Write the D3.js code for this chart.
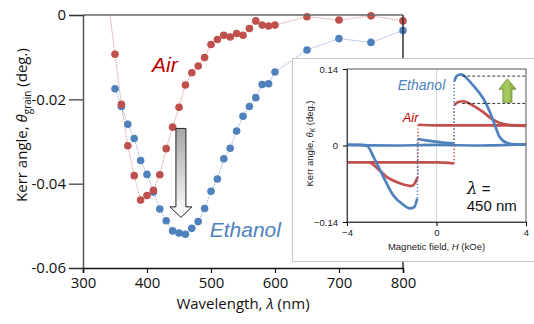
<!DOCTYPE html>
<html>
<head>
<meta charset="utf-8">
<script src="https://cdn.jsdelivr.net/npm/d3@7"></script>
<style>
  body { margin: 0; background: #fff; }
  svg { display: block; }
</style>
</head>
<body>
<div id="wrapper"></div>
<script>
// main chart: Kerr angle vs wavelength
const wavelength = [350, 360, 370, 380, 390, 400, 410, 420, 430, 440, 450, 460, 470, 480, 490,
    500, 510, 520, 530, 540, 550, 560, 570, 580, 590, 600, 650, 700, 750, 800];
const airKerr = [-0.0093, -0.0212, -0.0310, -0.0381, -0.0439, -0.0428, -0.0416, -0.0379, -0.0317, -0.0266,
    -0.0219, -0.0166, -0.0137, -0.0121, -0.0101, -0.0070, -0.0058, -0.0048, -0.0052, -0.0044,
    -0.0048, -0.0032, -0.0014, -0.0024, -0.0026, -0.0024, -0.0004, -0.0012, -0.0002, -0.0014];
const ethanolKerr = [-0.0175, -0.0217, -0.0259, -0.0293, -0.0345, -0.0378, -0.0420, -0.0460, -0.0488, -0.0512,
    -0.0517, -0.0520, -0.0506, -0.0490, -0.0459, -0.0418, -0.0389, -0.0341, -0.0316, -0.0275,
    -0.0240, -0.0217, -0.0196, -0.0165, -0.0163, -0.0135, -0.0083, -0.0056, -0.0065, -0.0037];
// the air curve comes in from above the plot at 340 nm
const airLead = {wavelength: 340, kerr: 0.0025};

const xTicks = [300, 400, 500, 600, 700, 800];
const yTicks = [0, -0.02, -0.04, -0.06];
const yTickLabels = ["0", "-0.02", "-0.04", "-0.06"];

// inset: hysteresis loops at 450 nm, [H (kOe), angle (deg.)]
const ethanolTrough = [[-4, 0.001], [-3.4, 0.001], [-3.1, -0.001], [-2.8, -0.022], [-2.4, -0.055],
    [-1.95, -0.090], [-1.5, -0.108], [-1.2, -0.115], [-1.0, -0.113], [-0.86, -0.097]];
const ethanolMiddle = [[-0.83, 0.012], [-0.4, 0.009], [0, 0.007], [0.4, 0.005], [0.78, 0.004]];
const ethanolPeak = [[0.8, 0.118], [0.9, 0.127], [1.1, 0.130], [1.4, 0.121], [1.64, 0.110],
    [2.09, 0.086], [2.39, 0.061], [2.61, 0.037], [2.83, 0.015], [3.13, 0.005], [3.5, 0.002], [4, 0.002]];
const ethanolFlat = [[-4, 0.001], [-2, 0.0], [0, 0.001], [2, 0.0], [4, 0.002]];
const ethanolJumps = [[-0.85, -0.097, 0.012], [0.79, 0.004, 0.118]];

const airTrough = [[-4, -0.031], [-3.0, -0.031], [-2.69, -0.040], [-2.24, -0.057], [-1.64, -0.069],
    [-1.12, -0.074], [-0.93, -0.066], [-0.85, -0.058]];
const airUpper = [[-0.82, 0.038], [0, 0.037], [1, 0.037], [2, 0.037], [3, 0.037], [4, 0.036]];
const airLower = [[-3.0, -0.031], [-2, -0.031], [-1, -0.031], [0, -0.031], [0.78, -0.033]];
const airPeak = [[0.8, 0.074], [0.95, 0.079], [1.19, 0.081], [1.64, 0.073], [2.09, 0.061],
    [2.46, 0.049], [2.83, 0.041], [3.2, 0.038], [4, 0.037]];
const airJumps = [[-0.83, -0.058, 0.038], [0.79, -0.033, 0.074]];

const peakLevels = [0.127, 0.077];
const insetXTicks = [-4, 0, 4];
const insetYTicks = [0.14, 0, -0.14];

const red = "#c0504d";
const blue = "#4f81bd";

function drawChart() {
    const width = 534;
    const height = 324;
    const margin = {top: 15, right: 131, bottom: 56, left: 83};
    const dimensions = new Dimensions(width, height, margin);

    const svg = d3.select("#wrapper")
        .append("svg")
        .attr("width", dimensions.width)
        .attr("height", dimensions.height);

    const defs = svg.append("defs");
    const grey = defs.append("linearGradient")
        .attr("id", "greyArrow")
        .attr("x1", 0).attr("y1", 0).attr("x2", 0).attr("y2", 1);
    grey.append("stop").attr("offset", "0%").attr("stop-color", "#a6a6a6");
    grey.append("stop").attr("offset", "100%").attr("stop-color", "#ffffff");
    const green = defs.append("linearGradient")
        .attr("id", "greenArrow")
        .attr("x1", 0).attr("y1", 0).attr("x2", 1).attr("y2", 0);
    green.append("stop").attr("offset", "0%").attr("stop-color", "#8fb548");
    green.append("stop").attr("offset", "50%").attr("stop-color", "#a9cc63");
    green.append("stop").attr("offset", "100%").attr("stop-color", "#7aa03a");
    defs.append("clipPath").attr("id", "plotClip")
        .append("rect")
        .attr("width", dimensions.boundedWidth)
        .attr("height", dimensions.boundedHeight);

    const bounds = svg.append("g")
        .attr("transform", translate(dimensions.margin.left, dimensions.margin.top));

    const xScale = d3.scaleLinear()
        .domain([300, 800])
        .range([0, dimensions.boundedWidth]);

    const yScale = d3.scaleLinear()
        .domain([-0.06, 0])
        .range([dimensions.boundedHeight, 0]);

    const air = wavelength.map((w, i) => ({wavelength: w, kerr: airKerr[i]}));
    const ethanol = wavelength.map((w, i) => ({wavelength: w, kerr: ethanolKerr[i]}));

    const lineGenerator = d3.line()
        .x(d => xScale(d.wavelength))
        .y(d => yScale(d.kerr));

    const plot = bounds.append("g").attr("clip-path", "url(#plotClip)");

    plot.append("path")
        .attr("d", lineGenerator([airLead, ...air]))
        .attr("fill", "none")
        .attr("stroke", "#d58f8d")
        .attr("stroke-width", 0.9)
        .attr("stroke-dasharray", "1.5,1");

    plot.append("path")
        .attr("d", lineGenerator(ethanol))
        .attr("fill", "none")
        .attr("stroke", "#8ea6cf")
        .attr("stroke-width", 0.9)
        .attr("stroke-dasharray", "1.5,1");

    bounds.append("g")
        .selectAll("circle")
        .data(ethanol)
        .join("circle")
        .attr("cx", d => xScale(d.wavelength))
        .attr("cy", d => yScale(d.kerr))
        .attr("r", 3.8)
        .attr("fill", blue);

    bounds.append("g")
        .selectAll("circle")
        .data(air)
        .join("circle")
        .attr("cx", d => xScale(d.wavelength))
        .attr("cy", d => yScale(d.kerr))
        .attr("r", 3.8)
        .attr("fill", red);

    // frame
    bounds.append("line")
        .attr("x1", 0).attr("x2", dimensions.boundedWidth)
        .attr("y1", 0).attr("y2", 0)
        .attr("stroke", "#666").attr("stroke-width", 1.5);
    bounds.append("line")
        .attr("x1", dimensions.boundedWidth).attr("x2", dimensions.boundedWidth)
        .attr("y1", 0).attr("y2", dimensions.boundedHeight)
        .attr("stroke", "#333").attr("stroke-width", 1.5);

    const yAxisGenerator = d3.axisLeft()
        .scale(yScale)
        .tickValues(yTicks)
        .tickFormat((d, i) => yTickLabels[i])
        .tickSize(14)
        .tickPadding(3);

    const yAxis = bounds.append("g")
        .call(yAxisGenerator);
    yAxis.select(".domain").attr("stroke", "#555").attr("stroke-width", 1.5);
    yAxis.selectAll(".tick line").attr("stroke", "#333").attr("stroke-width", 1.2);
    yAxis.selectAll("text")
        .attr("font-family", "Open Sans")
        .attr("font-size", 15)
        .attr("fill", "#111");

    const xAxisGenerator = d3.axisBottom()
        .scale(xScale)
        .tickValues(xTicks)
        .tickSize(5)
        .tickPadding(4);

    const xAxis = bounds.append("g")
        .call(xAxisGenerator)
        .attr("transform", translate(0, dimensions.boundedHeight));
    xAxis.select(".domain").attr("stroke", "#111").attr("stroke-width", 1.5);
    xAxis.selectAll(".tick line").attr("stroke", "#111").attr("stroke-width", 1.2);
    xAxis.selectAll("text")
        .attr("font-family", "Open Sans")
        .attr("font-size", 15)
        .attr("fill", "#111");

    const xLabel = bounds.append("text")
        .attr("x", dimensions.boundedWidth / 2)
        .attr("y", dimensions.boundedHeight + 41)
        .attr("text-anchor", "middle")
        .attr("font-family", "Open Sans")
        .attr("font-size", 15)
        .attr("fill", "#111");
    xLabel.append("tspan").text("Wavelength, ");
    xLabel.append("tspan").attr("font-style", "italic").text("λ");
    xLabel.append("tspan").text(" (nm)");

    const yLabel = svg.append("text")
        .attr("transform", "translate(27,125) rotate(-90)")
        .attr("text-anchor", "middle")
        .attr("font-family", "Open Sans")
        .attr("font-size", 15)
        .attr("fill", "#111");
    yLabel.append("tspan").text("Kerr angle, ");
    yLabel.append("tspan").attr("font-style", "italic").text("θ");
    yLabel.append("tspan").attr("font-size", 10).attr("dy", 4).text("grain");
    yLabel.append("tspan").attr("dy", -4).text(" (deg.)");

    bounds.append("text")
        .attr("x", xScale(408))
        .attr("y", yScale(-0.0136))
        .attr("font-family", "Liberation Sans")
        .attr("font-style", "italic")
        .attr("font-size", 21)
        .attr("fill", "#c00000")
        .text("Air");

    bounds.append("text")
        .attr("x", xScale(498))
        .attr("y", yScale(-0.0526))
        .attr("font-family", "Liberation Sans")
        .attr("font-style", "italic")
        .attr("font-size", 21)
        .attr("fill", blue)
        .text("Ethanol");

    // grey block arrow: from the air dip to the ethanol dip
    const ax = xScale(453);
    const aTop = yScale(-0.0269);
    const aNeck = yScale(-0.0455);
    const aTip = yScale(-0.0480);
    bounds.append("path")
        .attr("d", `M${ax - 5},${aTop} H${ax + 5} V${aNeck} H${ax + 11} L${ax},${aTip} L${ax - 11},${aNeck} H${ax - 5} Z`)
        .attr("fill", "url(#greyArrow)")
        .attr("stroke", "#222")
        .attr("stroke-width", 1);

    drawInset(svg, defs);
}

function drawInset(svg, defs) {
    svg.append("rect")
        .attr("x", 292.5).attr("y", 58.5)
        .attr("width", 250).attr("height", 203)
        .attr("fill", "#fff")
        .attr("stroke", "#c6c6c6")
        .attr("stroke-width", 1);

    const inset = new Dimensions(534, 324, {top: 69, right: 8, bottom: 102, left: 347});
    const g = svg.append("g")
        .attr("transform", translate(inset.margin.left, inset.margin.top));

    const hScale = d3.scaleLinear()
        .domain([-4, 4])
        .range([0, inset.boundedWidth]);
    const kScale = d3.scaleLinear()
        .domain([-0.14, 0.14])
        .range([inset.boundedHeight, 0]);

    g.append("line")
        .attr("x1", hScale(0)).attr("x2", hScale(0))
        .attr("y1", 0).attr("y2", inset.boundedHeight)
        .attr("stroke", "#d9d9d9");

    const curve = d3.line()
        .x(d => hScale(d[0]))
        .y(d => kScale(d[1]))
        .curve(d3.curveMonotoneX);

    const branches = [
        {data: airLower, color: red},
        {data: airTrough, color: red},
        {data: airUpper, color: red},
        {data: airPeak, color: red},
        {data: ethanolFlat, color: blue},
        {data: ethanolTrough, color: blue},
        {data: ethanolMiddle, color: blue},
        {data: ethanolPeak, color: blue},
    ];
    g.append("g")
        .selectAll("path")
        .data(branches)
        .join("path")
        .attr("d", d => curve(d.data))
        .attr("fill", "none")
        .attr("stroke", d => d.color)
        .attr("stroke-width", 2.7)
        .attr("stroke-linejoin", "round");

    const jumps = [
        ...airJumps.map(j => ({jump: j, color: red})),
        ...ethanolJumps.map(j => ({jump: j, color: blue})),
    ];
    g.append("g")
        .selectAll("line")
        .data(jumps)
        .join("line")
        .attr("x1", d => hScale(d.jump[0]))
        .attr("x2", d => hScale(d.jump[0]))
        .attr("y1", d => kScale(d.jump[1]))
        .attr("y2", d => kScale(d.jump[2]))
        .attr("stroke", d => d.color)
        .attr("stroke-width", 1.6)
        .attr("stroke-dasharray", "1.2,2.2");

    g.append("g")
        .selectAll("line")
        .data(peakLevels)
        .join("line")
        .attr("x1", hScale(1.15))
        .attr("x2", hScale(4))
        .attr("y1", d => kScale(d))
        .attr("y2", d => kScale(d))
        .attr("stroke", "#222")
        .attr("stroke-width", 0.9)
        .attr("stroke-dasharray", "3,2");

    // green up arrow between the two peak levels
    const gx = hScale(3.17);
    const gTop = kScale(0.122);
    const gNeck = kScale(0.103);
    const gBottom = kScale(0.079);
    g.append("path")
        .attr("d", `M${gx - 4.5},${gBottom} V${gNeck} H${gx - 8.5} L${gx},${gTop} L${gx + 8.5},${gNeck} H${gx + 4.5} V${gBottom} Z`)
        .attr("fill", "url(#greenArrow)")
        .attr("stroke", "#6b8e2f")
        .attr("stroke-width", 0.8);

    // frame
    g.append("rect")
        .attr("width", inset.boundedWidth)
        .attr("height", inset.boundedHeight)
        .attr("fill", "none")
        .attr("stroke", "#555")
        .attr("stroke-width", 1);

    const yAxis = g.append("g")
        .call(d3.axisLeft(kScale)
            .tickValues(insetYTicks)
            .tickFormat(d => d === 0 ? "0" : d3.format(".2f")(d))
            .tickSize(4)
            .tickPadding(5));
    yAxis.select(".domain").attr("stroke", "#444");
    yAxis.selectAll("text")
        .attr("font-family", "Liberation Sans")
        .attr("font-size", 9.5)
        .attr("fill", "#222");

    const xAxis = g.append("g")
        .attr("transform", translate(0, inset.boundedHeight))
        .call(d3.axisBottom(hScale)
            .tickValues(insetXTicks)
            .tickSize(4)
            .tickPadding(3));
    xAxis.select(".domain").attr("stroke", "#444");
    xAxis.selectAll("text")
        .attr("font-family", "Liberation Sans")
        .attr("font-size", 9.5)
        .attr("fill", "#222");

    const xLabel = g.append("text")
        .attr("x", inset.boundedWidth / 2)
        .attr("y", inset.boundedHeight + 28)
        .attr("text-anchor", "middle")
        .attr("font-family", "Liberation Sans")
        .attr("font-size", 9.5)
        .attr("fill", "#222");
    xLabel.append("tspan").text("Magnetic field, ");
    xLabel.append("tspan").attr("font-style", "italic").text("H");
    xLabel.append("tspan").text(" (kOe)");

    const yLabel = g.append("text")
        .attr("transform", `translate(-34,${inset.boundedHeight / 2 - 2}) rotate(-90)`)
        .attr("text-anchor", "middle")
        .attr("font-family", "Liberation Sans")
        .attr("font-size", 9.5)
        .attr("fill", "#222");
    yLabel.append("tspan").text("Kerr angle, ");
    yLabel.append("tspan").attr("font-style", "italic").text("θ");
    yLabel.append("tspan").attr("font-size", 6.5).attr("dy", 2).attr("font-style", "italic").text("K");
    yLabel.append("tspan").attr("dy", -2).text(" (deg.)");

    g.append("text")
        .attr("x", hScale(-1.73))
        .attr("y", kScale(0.101))
        .attr("font-family", "Liberation Sans")
        .attr("font-style", "italic")
        .attr("font-size", 14)
        .attr("fill", blue)
        .text("Ethanol");

    g.append("text")
        .attr("x", hScale(-1.51))
        .attr("y", kScale(0.043))
        .attr("font-family", "Liberation Sans")
        .attr("font-style", "italic")
        .attr("font-size", 13)
        .attr("fill", "#c00000")
        .text("Air");

    const lambdaLabel = g.append("text")
        .attr("x", hScale(1.35))
        .attr("y", kScale(-0.088))
        .attr("font-family", "Liberation Sans")
        .attr("font-size", 15)
        .attr("fill", "#111");
    lambdaLabel.append("tspan").attr("font-style", "italic").attr("font-family", "DejaVu Serif").attr("font-size", 17).text("λ");
    lambdaLabel.append("tspan").text(" =");

    g.append("text")
        .attr("x", hScale(1.35))
        .attr("y", kScale(-0.119))
        .attr("font-family", "Liberation Sans")
        .attr("font-size", 15)
        .attr("fill", "#111")
        .text("450 nm");
}

class Dimensions {
    constructor(width, height, margin) {
        this.width = width;
        this.height = height;
        this.margin = margin;

        this.boundedWidth = this.width
            - this.margin.left
            - this.margin.right;
        this.boundedHeight = this.height
            - this.margin.top
            - this.margin.bottom;
    }
}

function translate(x, y) {
    return `translate(${x},${y})`;
}

drawChart();
</script>
</body>
</html>
